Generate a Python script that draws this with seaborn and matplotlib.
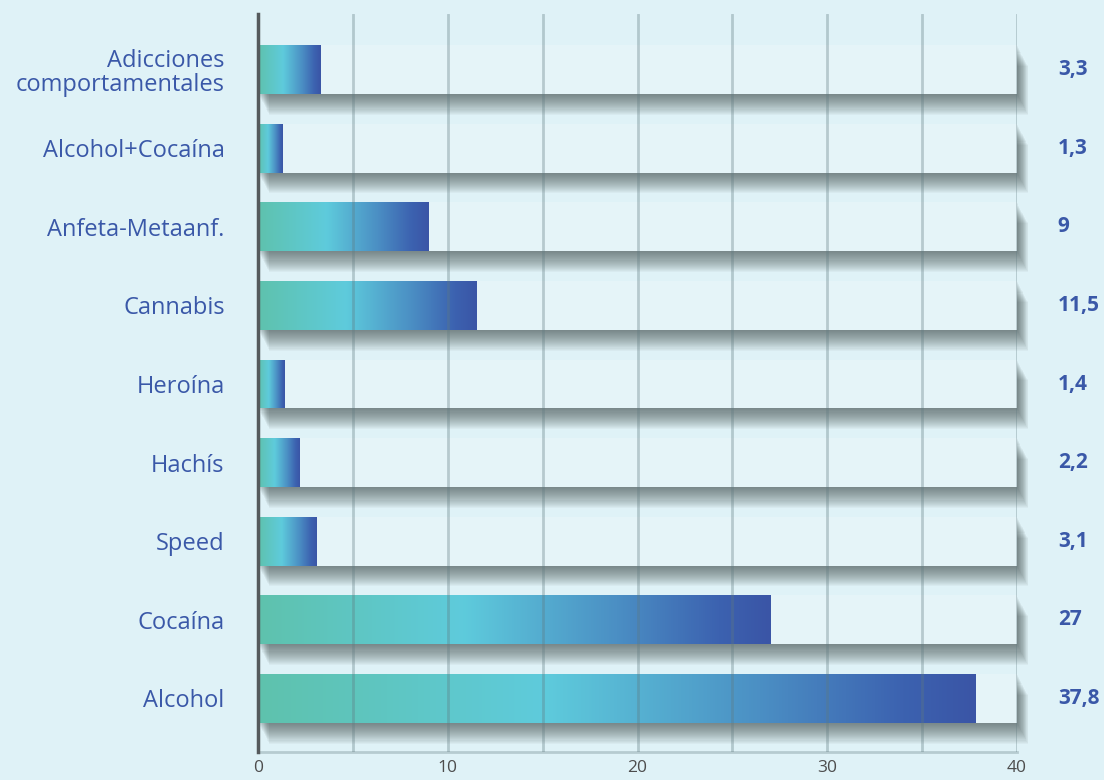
import numpy as np
import pandas as pd
import seaborn as sns
import matplotlib.pyplot as plt
import matplotlib.patheffects as pe
from matplotlib.colors import LinearSegmentedColormap

# datos
categorias = ["Adicciones\ncomportamentales", "Alcohol+Cocaína", "Anfeta-Metaanf.",
              "Cannabis", "Heroína", "Hachís", "Speed", "Cocaína", "Alcohol"]
valores = [3.3, 1.3, 9, 11.5, 1.4, 2.2, 3.1, 27, 37.8]
etiquetas = ["3,3", "1,3", "9", "11,5", "1,4", "2,2", "3,1", "27", "37,8"]
maximo = 40

fondo = "#dff2f7"
azul = "#3a58a8"

sns.set_theme(style="white")
plt.rcParams['font.family'] = ['Open Sans', 'DejaVu Sans']

df = pd.DataFrame({"categoria": categorias, "valor": valores,
                   "total": [maximo] * len(categorias)})

fig = plt.figure(figsize=(11.04, 7.80), dpi=100, facecolor=fondo)
ax = fig.add_axes([0.2337, 0.036, 0.6875, 0.946])
ax.set_facecolor(fondo)

# barras de fondo con sombra difuminada
sns.barplot(data=df, x="total", y="categoria", orient="h", color="#e5f4f8",
            width=0.62, saturation=1, ax=ax, zorder=1)
sombra = [pe.SimplePatchShadow(offset=(0.4 * k, -0.75 * k), shadow_rgbFace="#3e4a4a", alpha=0.042)
          for k in range(1, 21)] + [pe.Normal()]
for p in ax.containers[0]:
    p.set_path_effects(sombra)
    p.set_edgecolor("none")
    p.set_clip_on(False)

# barras de datos con degradado
sns.barplot(data=df, x="valor", y="categoria", orient="h", color="#4f9ccb",
            width=0.62, saturation=1, ax=ax, zorder=2)
cmap = LinearSegmentedColormap.from_list(
    "grad", [(0, "#5fc2ad"), (0.4, "#5ecbdc"), (0.7, "#4b8fc4"), (0.9, "#3c62b0"), (1, "#3a55a6")])
grad = np.linspace(0, 1, 256).reshape(1, -1)
for p in ax.containers[1]:
    x0, y0, w, h = p.get_x(), p.get_y(), p.get_width(), p.get_height()
    im = ax.imshow(grad, cmap=cmap, aspect="auto", extent=(x0, x0 + w, y0 + h, y0), zorder=3)
    im.set_clip_path(p)
    p.set_facecolor("none")
    p.set_edgecolor("none")

# lineas de cuadricula
for xv in range(5, maximo + 1, 5):
    ax.axvline(xv, color="#5f7a80", alpha=0.35, lw=2, zorder=4)

ax.set_xlim(0, maximo)
ax.set_ylim(8.68, -0.706)
ax.set_xticks(range(0, maximo + 1, 10))
ax.set_xlabel("")
ax.set_ylabel("")

ax.tick_params(axis="x", length=0, pad=6, labelsize=12.5, labelcolor="#4d4d4d")
ax.tick_params(axis="y", length=0, pad=24, labelsize=17, labelcolor=azul)
for t in ax.get_yticklabels():
    t.set_linespacing(1.0)

for s in ["top", "right"]:
    ax.spines[s].set_visible(False)
ax.spines["left"].set_color("#555a5c")
ax.spines["left"].set_linewidth(2.5)
ax.spines["left"].set_zorder(6)
ax.spines["bottom"].set_color("#b6cbd0")
ax.spines["bottom"].set_linewidth(2)

# etiquetas de valor
for i, txt in enumerate(etiquetas):
    ax.text(42.15, i, txt, ha="left", va="center", fontsize=15, fontweight="bold",
            color=azul, clip_on=False)

fig.savefig("out.png", dpi=100, facecolor=fondo)
